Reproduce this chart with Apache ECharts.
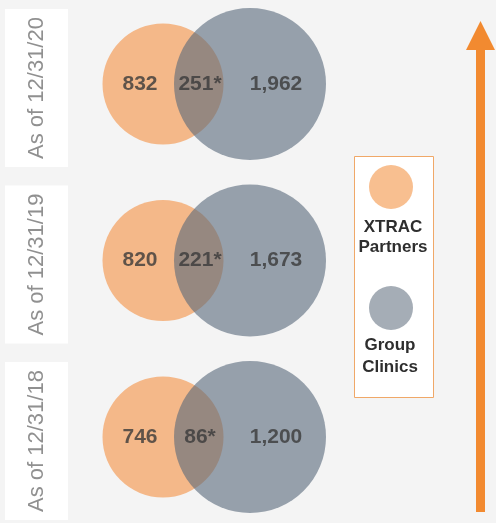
<!DOCTYPE html>
<html>
<head>
<meta charset="utf-8">
<script src="https://cdn.jsdelivr.net/npm/echarts@6/dist/echarts.min.js"></script>
<style>
* { margin: 0; padding: 0; }
html, body { width: 496px; height: 523px; background: #f4f4f4; overflow: hidden; }
#main { width: 496px; height: 523px; }
</style>
</head>
<body>
<div id="main"></div>
<script>
// periods, listed bottom to top
var dates = ['As of 12/31/18', 'As of 12/31/19', 'As of 12/31/20'];
var xtracOnly = [746, 820, 832];
var shared = [86, 221, 251];
var clinicsOnly = [1200, 1673, 1962];
var seriesNames = ['XTRAC Partners', 'Group Clinics'];
var legendNames = ['XTRAC\nPartners', 'Group\nClinics'];

// layout along the hidden x axis (0..496)
var orangeX = 163, grayX = 250;
var labelX = [140, 200, 276];

function fmt(v) { return v.toLocaleString('en-US'); }

var orangeData = [], grayData = [], labelData = [];
for (var i = 0; i < dates.length; i++) {
  orangeData.push([orangeX, i]);
  grayData.push([grayX, i]);
  labelData.push({ value: [labelX[0], i], name: fmt(xtracOnly[i]) });
  labelData.push({ value: [labelX[1], i], name: fmt(shared[i]) + '*' });
  labelData.push({ value: [labelX[2], i], name: fmt(clinicsOnly[i]) });
}

var chart = echarts.init(document.getElementById('main'));
chart.setOption({
  backgroundColor: '#f4f4f4',
  animation: false,
  textStyle: { fontFamily: '"Liberation Sans", Arial, sans-serif' },
  grid: [
    { left: 0, right: 0, top: 84, bottom: 86 },
    { left: 80, width: 10, top: 88, bottom: 74 }
  ],
  xAxis: [
    { type: 'value', min: 0, max: 496, show: false, gridIndex: 0 },
    { type: 'value', show: false, gridIndex: 1 }
  ],
  yAxis: [
    { type: 'category', data: dates, boundaryGap: false, show: false, gridIndex: 0 },
    {
      type: 'category', data: dates, boundaryGap: false, gridIndex: 1,
      axisLine: { show: false }, axisTick: { show: false }, splitLine: { show: false },
      axisLabel: {
        interval: 0, rotate: 90, margin: 12,
        color: '#909090', fontSize: 22, lineHeight: 24,
        backgroundColor: '#ffffff', padding: [20, 8, 19, 8]
      }
    }
  ],
  series: [
    {
      name: seriesNames[0], type: 'scatter', data: orangeData, symbolSize: 121,
      clip: false, silent: true,
      itemStyle: { color: '#f4b889', opacity: 1 }
    },
    {
      name: seriesNames[1], type: 'scatter', data: grayData, symbolSize: 152,
      clip: false, silent: true,
      itemStyle: { color: 'rgb(86,104,121)', opacity: 0.6 }
    },
    {
      type: 'scatter', data: labelData, symbolSize: 0, clip: false, silent: true, z: 5,
      label: {
        show: true, position: 'inside', formatter: '{b}',
        color: '#3a3a3a', fontSize: 21, fontWeight: 'bold'
      }
    }
  ],
  graphic: [
    { type: 'rect', shape: { x: 354.5, y: 156.5, width: 79, height: 241 },
      style: { fill: '#ffffff', stroke: '#f0a868', lineWidth: 1 } },
    { type: 'circle', shape: { cx: 391, cy: 187, r: 22 }, style: { fill: '#f8bf90' } },
    { type: 'text', x: 393, y: 237,
      style: { text: legendNames[0], align: 'center', verticalAlign: 'middle', lineHeight: 20,
               font: 'bold 17px "Liberation Sans", Arial, sans-serif', fill: '#2e2e2e' } },
    { type: 'circle', shape: { cx: 391, cy: 308, r: 22 }, style: { fill: '#a5adb6' } },
    { type: 'text', x: 390, y: 356,
      style: { text: legendNames[1], align: 'center', verticalAlign: 'middle', lineHeight: 22,
               font: 'bold 17px "Liberation Sans", Arial, sans-serif', fill: '#2e2e2e' } },
    { type: 'rect', shape: { x: 476, y: 48, width: 9, height: 464 }, style: { fill: '#f28a30' } },
    { type: 'polygon', shape: { points: [[466, 50], [480.5, 21], [495, 50]] }, style: { fill: '#f28a30' } }
  ]
});
</script>
</body>
</html>
